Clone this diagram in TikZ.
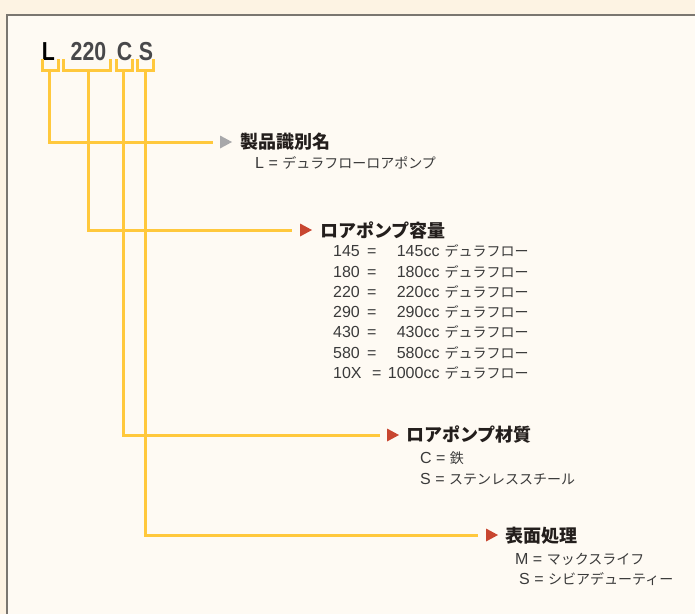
\documentclass[tikz,border=0pt]{standalone}
\usepackage{fontspec}
\usepackage{graphicx}
\setmainfont{Liberation Sans}
\newfontfamily\jpfont{Noto Sans CJK JP}
\newcommand{\jp}{\jpfont\fontsize{14}{16}\selectfont}
\definecolor{outerbg}{RGB}{253,243,227}
\definecolor{panelbg}{RGB}{254,250,243}
\definecolor{panelline}{RGB}{122,118,112}
\definecolor{lineyellow}{RGB}{255,200,60}
\definecolor{trired}{RGB}{200,70,48}
\definecolor{trigray}{RGB}{168,168,170}
\definecolor{headtext}{RGB}{35,30,28}
\definecolor{subtext}{RGB}{58,58,58}
\definecolor{codegray}{RGB}{72,72,74}

\begin{document}
\begin{tikzpicture}[x=1pt,y=1pt,yscale=-1,xscale=1,
  yline/.style={draw=lineyellow,line width=3pt},
  head/.style={anchor=west,inner sep=0pt,text=headtext,font=\jpfont\fontsize{18}{20}\selectfont\bfseries},
  sub/.style={anchor=west,inner sep=0pt,text=subtext,font=\fontsize{16}{18}\selectfont},
  code/.style={anchor=base,inner sep=0pt,font=\fontsize{26}{27}\selectfont\bfseries}]
\useasboundingbox (0,0) rectangle (695,614);

% background and panel
\fill[outerbg] (0,0) rectangle (695,614);
\fill[panelbg] (7,15) rectangle (695,614);
\draw[panelline,line width=1.8pt] (7,614) -- (7,15) -- (695,15);

% Text Node
\node[code,text=black] (codeL) at (48.5,60) {\scalebox{0.82}[1]{L}};
\node[code,text=codegray] (code220) at (88.5,60) {\scalebox{0.82}[1]{220}};
\node[code,text=codegray] (codeC) at (124.5,60) {\scalebox{0.82}[1]{C}};
\node[code,text=codegray] (codeS) at (146,60) {\scalebox{0.82}[1]{S}};

% brackets under the code
\draw[yline] (42,59) -- (42,70) -- (58,70) -- (58,59);
\draw[yline] (63.5,59) -- (63.5,70) -- (110.5,70) -- (110.5,59);
\draw[yline] (116,59) -- (116,70) -- (132,70) -- (132,59);
\draw[yline] (137,59) -- (137,70) -- (153.5,70) -- (153.5,59);
\coordinate (brL) at (49,70);
\coordinate (br220) at (88.5,70);
\coordinate (brC) at (123.5,70);
\coordinate (brS) at (145,70);

% Text Node
\node[head] (hName) at (240,142) {製品識別名};
\node[sub] (sName) at (255,163) {L = {\jp デュラフローロアポンプ}};
\coordinate (endName) at (213,142);
\fill[trigray] (220,135.5) -- (232,142) -- (220,148.5) -- cycle;

% Text Node
\node[head] (hSize) at (320,230) {ロアポンプ容量};
\node[sub] (s145) at (333,251) {\makebox[34pt][l]{145}=\makebox[63pt][r]{145cc}\hspace{5pt}{\jp デュラフロー}};
\node[sub] (s180) at (333,271.5) {\makebox[34pt][l]{180}=\makebox[63pt][r]{180cc}\hspace{5pt}{\jp デュラフロー}};
\node[sub] (s220) at (333,292) {\makebox[34pt][l]{220}=\makebox[63pt][r]{220cc}\hspace{5pt}{\jp デュラフロー}};
\node[sub] (s290) at (333,312) {\makebox[34pt][l]{290}=\makebox[63pt][r]{290cc}\hspace{5pt}{\jp デュラフロー}};
\node[sub] (s430) at (333,332) {\makebox[34pt][l]{430}=\makebox[63pt][r]{430cc}\hspace{5pt}{\jp デュラフロー}};
\node[sub] (s580) at (333,352.5) {\makebox[34pt][l]{580}=\makebox[63pt][r]{580cc}\hspace{5pt}{\jp デュラフロー}};
\node[sub] (s10X) at (333,373) {\makebox[39pt][l]{10X}=\makebox[58pt][r]{1000cc}\hspace{5pt}{\jp デュラフロー}};
\coordinate (endSize) at (292,230);
\fill[trired] (300,223.5) -- (312,230) -- (300,236.5) -- cycle;

% Text Node
\node[head] (hMat) at (406,435) {ロアポンプ材質};
\node[sub] (sMatC) at (420,458.5) {C = {\jp 鉄}};
\node[sub] (sMatS) at (420,479.5) {S = {\jp ステンレススチール}};
\coordinate (endMat) at (380,435);
\fill[trired] (387,428.5) -- (399,435) -- (387,441.5) -- cycle;

% Text Node
\node[head] (hSurf) at (505,536) {表面処理};
\node[sub] (sSurfM) at (515,559) {M = {\jp マックスライフ}};
\node[sub] (sSurfS) at (519,579) {S = {\jp シビアデューティー}};
\coordinate (endSurf) at (478,535);
\fill[trired] (486,528.5) -- (498,535) -- (486,541.5) -- cycle;

% connectors
\draw[yline] (brL) |- (endName);
\draw[yline] (br220) |- (endSize);
\draw[yline] (brC) |- (endMat);
\draw[yline] (brS) |- (endSurf);

\end{tikzpicture}
\end{document}
